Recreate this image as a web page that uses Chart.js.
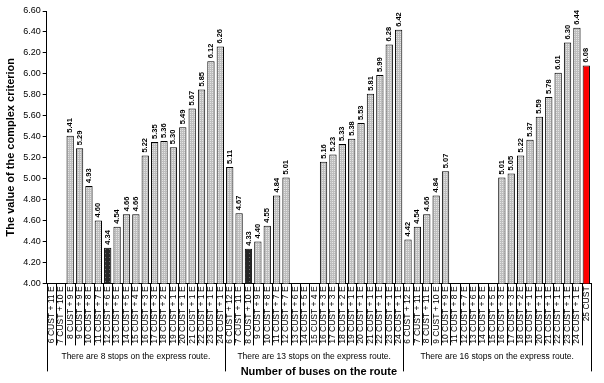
<!DOCTYPE html>
<html><head><meta charset="utf-8">
<script src="https://cdn.jsdelivr.net/npm/chart.js@4"></script>
<style>html,body{margin:0;padding:0;background:#fff}#wrap{width:604px;height:383px}</style>
</head><body><div id="wrap"><canvas id="c" width="604" height="383"></canvas></div>
<script>
const categories = [
  "6 CUST + 11 E","7 CUST + 10 E","8 CUST + 9 E","9 CUST + 9 E","10 CUST + 8 E","11 CUST + 7 E","12 CUST + 6 E","13 CUST + 5 E","14 CUST + 5 E","15 CUST + 4 E","16 CUST + 3 E","17 CUST + 3 E","18 CUST + 2 E","19 CUST + 1 E","20 CUST + 1 E","21 CUST + 1 E","22 CUST + 1 E","23 CUST + 1 E","24 CUST + 1 E",
  "6 CUST + 12 E","7 CUST + 11 E","8 CUST + 10 E","9 CUST + 9 E","10 CUST + 8 E","11 CUST + 7 E","12 CUST + 7 E","13 CUST + 6 E","14 CUST + 5 E","15 CUST + 4 E","16 CUST + 3 E","17 CUST + 3 E","18 CUST + 2 E","19 CUST + 1 E","20 CUST + 1 E","21 CUST + 1 E","22 CUST + 1 E","23 CUST + 1 E","24 CUST + 1 E",
  "6 CUST + 12 E","7 CUST + 11 E","8 CUST + 11 E","9 CUST + 10 E","10 CUST + 9 E","11 CUST + 8 E","12 CUST + 7 E","13 CUST + 6 E","14 CUST + 5 E","15 CUST + 5 E","16 CUST + 3 E","17 CUST + 3 E","18 CUST + 2 E","19 CUST + 1 E","20 CUST + 1 E","21 CUST + 1 E","22 CUST + 1 E","23 CUST + 1 E","24 CUST + 1 E","25 CUST"
];
const values = [
  null,null,5.41,5.29,4.93,4.60,4.34,4.54,4.66,4.66,5.22,5.35,5.36,5.30,5.49,5.67,5.85,6.12,6.26,
  5.11,4.67,4.33,4.40,4.55,4.84,5.01,null,null,null,5.16,5.23,5.33,5.38,5.53,5.81,5.99,6.28,6.42,
  4.42,4.54,4.66,4.84,5.07,null,null,null,null,null,5.01,5.05,5.22,5.37,5.59,5.78,6.01,6.30,6.44,6.08
];
const groupTitles = [
  "There are 8 stops on the express route.",
  "There are 13 stops on the express route.",
  "There are 16 stops on the express route."
];
const groupSizes = [19, 19, 20];
const minBarIndices = [6, 21];
const bestBarIndices = [57];
const yMin = 4.0, yMax = 6.6, yStep = 0.2;

function makePattern(bg, dot) {
  const c = document.createElement('canvas');
  c.width = 2; c.height = 2;
  const g = c.getContext('2d');
  g.fillStyle = bg; g.fillRect(0, 0, 2, 2);
  g.fillStyle = dot; g.fillRect(0, 0, 1, 1);
  return g.createPattern(c, 'repeat');
}
function makeDarkPattern() {
  const c = document.createElement('canvas');
  c.width = 4; c.height = 4;
  const g = c.getContext('2d');
  g.fillStyle = '#262626'; g.fillRect(0, 0, 4, 4);
  g.fillStyle = '#6a6a6a'; g.fillRect(1, 1, 1, 1);
  return g.createPattern(c, 'repeat');
}
const lightFill = makePattern('#bebebe', '#e4e4e4');
const darkFill = makeDarkPattern();
const bgColors = values.map((v, i) =>
  bestBarIndices.includes(i) ? '#ff0000' : (minBarIndices.includes(i) ? darkFill : lightFill));

const FONT = "'Liberation Sans', Arial, sans-serif";

const extrasPlugin = {
  id: 'extras',
  afterDatasetsDraw(chart) {
    const ctx = chart.ctx;
    const meta = chart.getDatasetMeta(0);
    ctx.save();
    ctx.fillStyle = '#000';
    ctx.font = 'bold 7.5px ' + FONT;
    ctx.textAlign = 'left';
    ctx.textBaseline = 'middle';
    meta.data.forEach((el, i) => {
      const v = values[i];
      if (v === null) return;
      ctx.save();
      ctx.translate(el.x, el.y - 3);
      ctx.rotate(-Math.PI / 2);
      ctx.fillText(v.toFixed(2), 0, 0);
      ctx.restore();
    });
    ctx.restore();
  },
  afterDraw(chart) {
    const ctx = chart.ctx;
    const xs = chart.scales.x;
    const n = categories.length;
    const step = xs.getPixelForValue(1) - xs.getPixelForValue(0);
    const y0 = xs.top;
    const boundaries = [0];
    let acc = 0;
    groupSizes.forEach(s => { acc += s; boundaries.push(acc); });
    ctx.save();
    ctx.strokeStyle = '#000';
    ctx.lineWidth = 1;
    for (let i = 0; i <= n; i++) {
      const x = Math.round(xs.getPixelForValue(0) + (i - 0.5) * step) + 0.5;
      const isB = boundaries.includes(i);
      ctx.beginPath();
      ctx.moveTo(x, y0);
      ctx.lineTo(x, isB ? y0 + 88 : y0 + 62);
      ctx.stroke();
    }
    ctx.fillStyle = '#000';
    ctx.font = '8.5px ' + FONT;
    ctx.textAlign = 'center';
    ctx.textBaseline = 'middle';
    for (let g = 0; g < groupSizes.length; g++) {
      const xa = xs.getPixelForValue(0) + (boundaries[g] - 0.5) * step;
      const xb = xs.getPixelForValue(0) + (boundaries[g + 1] - 0.5) * step;
      ctx.fillText(groupTitles[g], (xa + xb) / 2, y0 + 73);
    }
    ctx.restore();
  }
};

new Chart(document.getElementById('c'), {
  type: 'bar',
  data: {
    labels: categories,
    datasets: [{
      data: values,
      backgroundColor: bgColors,
      borderColor: '#000',
      borderWidth: 1,
      barPercentage: 0.78,
      categoryPercentage: 1.0
    }]
  },
  options: {
    responsive: false,
    animation: false,
    devicePixelRatio: 1,
    layout: { padding: { top: 11, right: 13, bottom: 4, left: 0 } },
    plugins: { legend: { display: false }, tooltip: { enabled: false } },
    scales: {
      x: {
        offset: true,
        grid: { display: true, drawOnChartArea: false, drawTicks: false, color: '#000' },
        border: { display: true, color: '#000', width: 1 },
        ticks: {
          autoSkip: false, maxRotation: 90, minRotation: 90, padding: 3,
          color: '#000', font: { family: FONT, size: 8.5 }
        },
        title: {
          display: true, text: 'Number of buses on the route', color: '#000',
          font: { family: FONT, size: 11, weight: 'bold' },
          padding: { top: 19, bottom: 0 }
        }
      },
      y: {
        min: yMin, max: yMax,
        grid: { display: true, drawOnChartArea: false, drawTicks: true, tickLength: 4, color: '#000' },
        border: { display: true, color: '#000', width: 1 },
        ticks: {
          stepSize: yStep, padding: 2, color: '#000',
          font: { family: FONT, size: 9 },
          callback: v => Number(v).toFixed(2)
        },
        title: {
          display: true, text: 'The value of the complex criterion', color: '#000',
          font: { family: FONT, size: 11, weight: 'bold' },
          padding: { top: 4, bottom: 4 }
        }
      }
    }
  },
  plugins: [extrasPlugin]
});
</script>
</body></html>
